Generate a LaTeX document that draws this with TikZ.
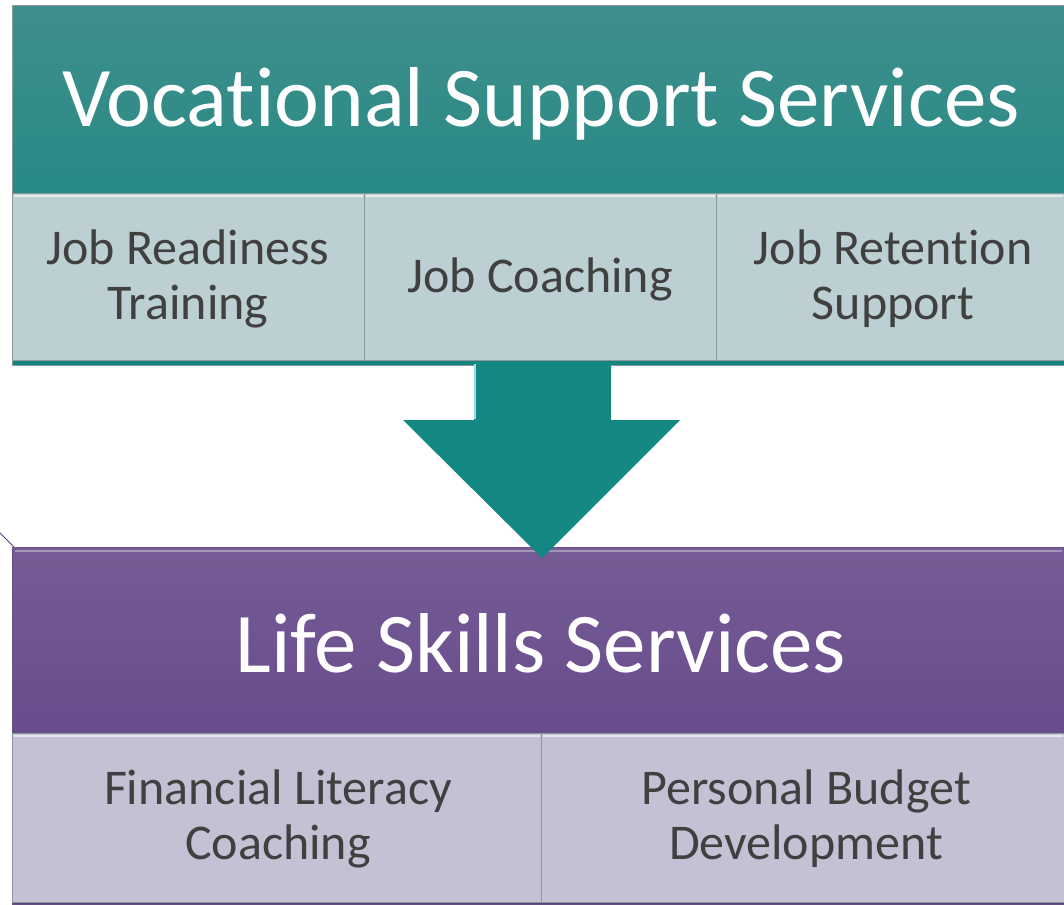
\documentclass[tikz,border=0pt]{standalone}
\usepackage{fontspec}
\setmainfont[Ligatures=NoCommon]{Carlito}
\usetikzlibrary{calc}
\definecolor{tealtop}{HTML}{3F8F8C}
\definecolor{tealbot}{HTML}{13857F}
\definecolor{tealsub}{HTML}{BCCFD3}
\definecolor{tealarrow}{HTML}{148783}
\definecolor{purptop}{HTML}{755C95}
\definecolor{purpbot}{HTML}{5C3D83}
\definecolor{purpsub}{HTML}{C5C1D4}
\definecolor{subtext}{HTML}{404040}
\definecolor{edgegray}{HTML}{8C9A9C}
\tikzset{
  titlebox/.style={draw=edgegray, line width=0.8pt, anchor=north west, inner sep=0pt},
  titletext/.style={anchor=center, text=white, font=\fontsize{85}{96}\selectfont},
  subbox/.style={draw=edgegray, line width=0.8pt, anchor=north west, inner sep=0pt},
  subtxt/.style={anchor=center, inner sep=0pt, text=subtext, align=center,
    font=\fontsize{50}{55}\selectfont},
}
\begin{document}
\begin{tikzpicture}[x=1pt,y=-1pt]
\useasboundingbox (0,0) rectangle (1064,904);
% top teal block
\node[titlebox, minimum width=1052pt, minimum height=360pt, top color=tealtop, bottom color=tealbot] (vback) at (12,5) {};
\node[titletext] (vtitle) at (541,104) {Vocat\kern0pt ional Support Services};
\node[subbox, fill=tealsub, minimum width=352pt, minimum height=167pt] (jrt) at (12,193) {};
\node[subbox, fill=tealsub, minimum width=352pt, minimum height=167pt] (jc) at (364,193) {};
\node[subbox, fill=tealsub, minimum width=348pt, minimum height=167pt] (jrs) at (716,193) {};
\draw[white, opacity=0.6, line width=2pt] ([shift={(2,3)}]jrt.north west) -- ([shift={(-2,3)}]jrt.north east);
\draw[white, opacity=0.6, line width=2pt] ([shift={(2,3)}]jc.north west) -- ([shift={(-2,3)}]jc.north east);
\draw[white, opacity=0.6, line width=2pt] ([shift={(2,3)}]jrs.north west) -- ([shift={(-2,3)}]jrs.north east);
\node[subtxt] (jrtt) at (188,279) {Job Readiness\\Training};
\node[subtxt] (jct) at (540,279) {Job Coaching};
\node[subtxt] (jrst) at (893,279) {Job Retent\kern0pt ion\\Support};
% thin line at left
\coordinate (lstart) at (0,533);
\draw[purpbot, line width=0.8pt] (lstart) -- (14,547);
% purple block
\node[titlebox, minimum width=1052pt, minimum height=357pt, top color=purptop, bottom color=purpbot, draw=purpbot!70!gray] (lback) at (12,547) {};
\draw[white, opacity=0.35, line width=2pt] ([shift={(3,4)}]lback.north west) -- ([shift={(-3,4)}]lback.north east);
\node[titletext] (ltitle) at (541,643) {Life Skills Services};
\node[subbox, fill=purpsub, minimum width=529pt, minimum height=169pt] (flc) at (12,733) {};
\node[subbox, fill=purpsub, minimum width=523pt, minimum height=169pt] (pbd) at (541,733) {};
\draw[white, opacity=0.6, line width=2pt] ([shift={(2,3)}]flc.north west) -- ([shift={(-2,3)}]flc.north east);
\draw[white, opacity=0.6, line width=2pt] ([shift={(2,3)}]pbd.north west) -- ([shift={(-2,3)}]pbd.north east);
\node[subtxt] (flct) at (278,819) {Financial Literacy\\Coaching};
\node[subtxt] (pbdt) at (806,819) {Personal Budget\\Development};
% block arrow
\coordinate (atop) at (542,362);
\coordinate (atip) at (542,558);
\fill[tealarrow] ($(atop)+(-68,0)$) -- ($(atop)+(69,0)$) -- ($(atop)+(69,58)$) -- (680,420)
  -- (atip) -- (403,420) -- ($(atop)+(-68,58)$) -- cycle;
\draw[white!60!cyan, line width=1.5pt] ($(atop)+(-67,2)$) -- ($(atop)+(-67,57)$);
\end{tikzpicture}
\end{document}
